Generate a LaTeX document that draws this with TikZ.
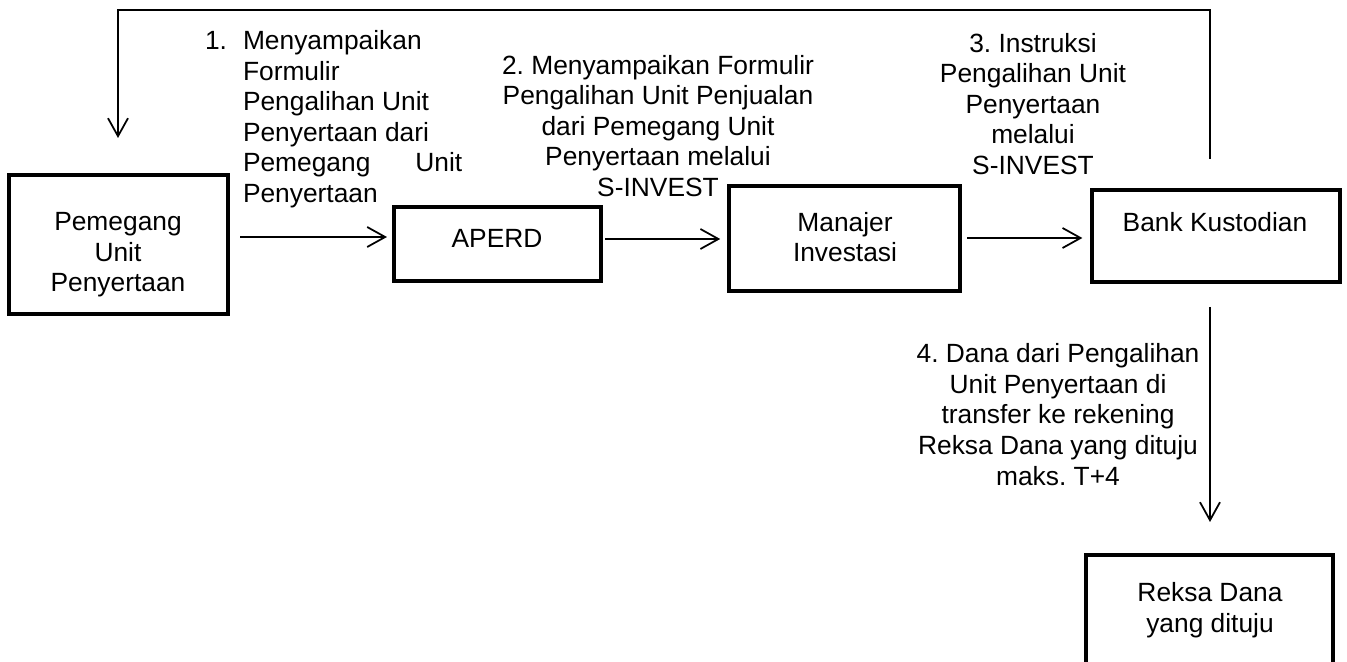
\documentclass[tikz,border=0pt]{standalone}
\usepackage{fontspec}
\setmainfont{Liberation Sans}
\usetikzlibrary{arrows.meta}
\frenchspacing
\tikzset{
  boxnode/.style={draw, rectangle, line width=2.3pt, inner sep=0pt, outer sep=0pt},
  txt/.style={inner sep=0pt, outer sep=0pt, font=\fontsize{15pt}{17.4pt}\selectfont},
  arr/.style={line width=1pt, -{Straight Barb[length=0.36cm,width=0.4cm,line width=1pt]}},
  fb/.style={line width=0.7pt}
}
\begin{document}
\begin{tikzpicture}[x=0.02cm,y=-0.02cm]
\clip (0,0) rectangle (1347,662);
% boxes
\node[boxnode, minimum width=4.38cm, minimum height=2.78cm] (pem) at (118.5,244.5) {};
\node[boxnode, minimum width=4.14cm, minimum height=1.48cm] (aperd) at (497.5,244) {};
\node[boxnode, minimum width=4.62cm, minimum height=2.1cm] (mi) at (844.5,238.5) {};
\node[boxnode, minimum width=4.96cm, minimum height=1.84cm] (bk) at (1216,236) {};
\node[boxnode, minimum width=4.94cm, minimum height=3.3cm] (rd) at (1209.5,637.5) {};
% box texts (base = baseline of last line)
\node[txt, anchor=base, align=center] (tpem) at (118,292) {Pemegang\\Unit\\Penyertaan};
\node[txt, anchor=base] (taperd) at (497,247.5) {APERD};
\node[txt, anchor=base, align=center] (tmi) at (845,262) {Manajer\\Investasi};
\node[txt, anchor=base] (tbk) at (1215,231.5) {Bank Kustodian};
\node[txt, anchor=base, align=center] (trd) at (1210,632) {Reksa Dana\\yang dituju};
% labels
\node[txt, anchor=base west] (l1n) at (205,49.5) {1.};
\node[txt, anchor=base west, align=left] (l1) at (243,202.5) {Menyampaikan\\Formulir\\Pengalihan Unit\\Penyertaan dari\\Pemegang\hspace{0.9cm}Unit\\Penyertaan};
\node[txt, anchor=base, align=center] (l2) at (658,196.5) {2. Menyampaikan Formulir\\Pengalihan Unit Penjualan\\dari Pemegang Unit\\Penyertaan melalui\\S-INVEST};
\node[txt, anchor=base, align=center] (l3) at (1033,174.5) {3. Instruksi\\Pengalihan Unit\\Penyertaan\\melalui\\S-INVEST};
\node[txt, anchor=base, align=center] (l4) at (1058,485) {4. Dana dari Pengalihan\\Unit Penyertaan di\\transfer ke rekening\\Reksa Dana yang dituju\\maks. T+4};
% connector coordinates
\coordinate (y1) at (0,237);
\coordinate (y2) at (0,239);
\coordinate (y3) at (0,238);
\coordinate (top) at (0,10);
\coordinate (fbs) at (1210,159);
\coordinate (fbe) at (118,138);
\coordinate (a4s) at (1210,307);
\coordinate (a4e) at (1210,522);
% connectors
\draw[arr, shorten <=7pt, shorten >=4pt] (pem.east |- y1) -- (aperd.west |- y1);
\draw[arr, shorten <=2.5pt, shorten >=5pt] (aperd.east |- y2) -- (mi.west |- y2);
\draw[arr, shorten <=4pt, shorten >=5.5pt] (mi.east |- y3) -- (bk.west |- y3);
\draw[fb, -{Straight Barb[length=0.36cm,width=0.4cm,line width=1pt]}] (fbs) -- (fbs |- top) -- (fbe |- top) -- (fbe);
\draw[arr] (a4s) -- (a4e);
\end{tikzpicture}
\end{document}
